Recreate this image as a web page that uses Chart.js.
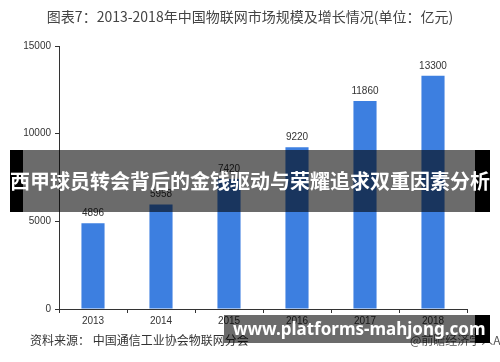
<!DOCTYPE html>
<html>
<head>
<meta charset="utf-8">
<script src="https://cdn.jsdelivr.net/npm/chart.js@4.4.1/dist/chart.umd.min.js"></script>
<style>
  body { margin: 0; background: #fff; font-family: "Noto Sans CJK SC", sans-serif; }
  #wrap { position: relative; width: 500px; height: 362px; overflow: hidden; }
  #title { position: absolute; left: 0; top: 6px; width: 500px; text-align: center; font-size: 14px; color: #444; }
  #source { position: absolute; left: 30px; top: 331px; font-size: 12px; color: #333; white-space: nowrap; }
  #app { position: absolute; left: 410px; top: 331px; font-size: 12px; color: #555; white-space: nowrap; }
  .shade { position: absolute; background: rgba(0,0,0,0.58); color: #fff; font-weight: bold; white-space: nowrap; overflow: hidden; }
  .blk { position: absolute; background: #000; }
  #banner { left: 10px; top: 150px; width: 480px; height: 62px; font-size: 20px; line-height: 62px; text-align: center; }
  #footer { left: 224px; top: 315px; width: 266px; height: 28px; font-family: "Noto Sans", sans-serif; font-size: 17px; line-height: 28px; padding-left: 9px; box-sizing: border-box; }
</style>
</head>
<body>
<div id="wrap">
  <canvas id="chart" width="500" height="362"></canvas>
  <div id="title">图表7：2013-2018年中国物联网市场规模及增长情况(单位：亿元)</div>
  <div id="source">资料来源： 中国通信工业协会物联网分会</div>
  <div id="app">@前瞻经济学人APP</div>
  <div class="blk" style="left:10px;top:150px;width:13px;height:62px"></div>
  <div class="blk" style="left:475px;top:150px;width:15px;height:62px"></div>
  <div class="shade" id="banner">西甲球员转会背后的金钱驱动与荣耀追求双重因素分析</div>
  <div class="blk" style="left:475px;top:315px;width:15px;height:28px"></div>
  <div class="shade" id="footer">www.platforms-mahjong.com</div>
</div>
<script>
const years = ['2013', '2014', '2015', '2016', '2017', '2018'];
const marketSize = [4896, 5958, 7420, 9220, 11860, 13300];
const yTicks = [0, 5000, 10000, 15000];

// 柱子上方的数值
const valueLabels = {
  id: 'valueLabels',
  afterDatasetsDraw(chart) {
    const ctx = chart.ctx;
    const meta = chart.getDatasetMeta(0);
    ctx.save();
    ctx.font = '10px "Liberation Sans", Arial, sans-serif';
    ctx.fillStyle = '#333';
    ctx.textAlign = 'center';
    ctx.textBaseline = 'bottom';
    meta.data.forEach((bar, i) => {
      ctx.fillText(String(marketSize[i]), bar.x, bar.y - 5);
    });
    ctx.restore();
  }
};

new Chart(document.getElementById('chart').getContext('2d'), {
  type: 'bar',
  data: {
    labels: years,
    datasets: [{
      data: marketSize,
      backgroundColor: '#3d7fe0',
      barPercentage: 0.34,
      categoryPercentage: 1
    }]
  },
  options: {
    responsive: false,
    animation: false,
    layout: { padding: { left: 0, right: 33, top: 46, bottom: 0 } },
    plugins: {
      legend: { display: false },
      tooltip: { enabled: false }
    },
    scales: {
      x: {
        grid: { drawOnChartArea: false, tickLength: 4, color: '#333' },
        border: { color: '#333' },
        ticks: { color: '#333', font: { size: 10, family: '"Liberation Sans", Arial, sans-serif' }, padding: 2 },
        afterFit(scale) { scale.height = 53; }
      },
      y: {
        min: 0,
        max: 15000,
        afterBuildTicks(scale) { scale.ticks = yTicks.map(v => ({ value: v })); },
        grid: { drawOnChartArea: false, tickLength: 4, color: '#333' },
        border: { color: '#333' },
        ticks: {
          color: '#333',
          font: { size: 10, family: '"Liberation Sans", Arial, sans-serif' },
          padding: 4,
          callback: v => String(v)
        },
        afterFit(scale) { scale.width = 59; }
      }
    }
  },
  plugins: [valueLabels]
});
</script>
</body>
</html>
